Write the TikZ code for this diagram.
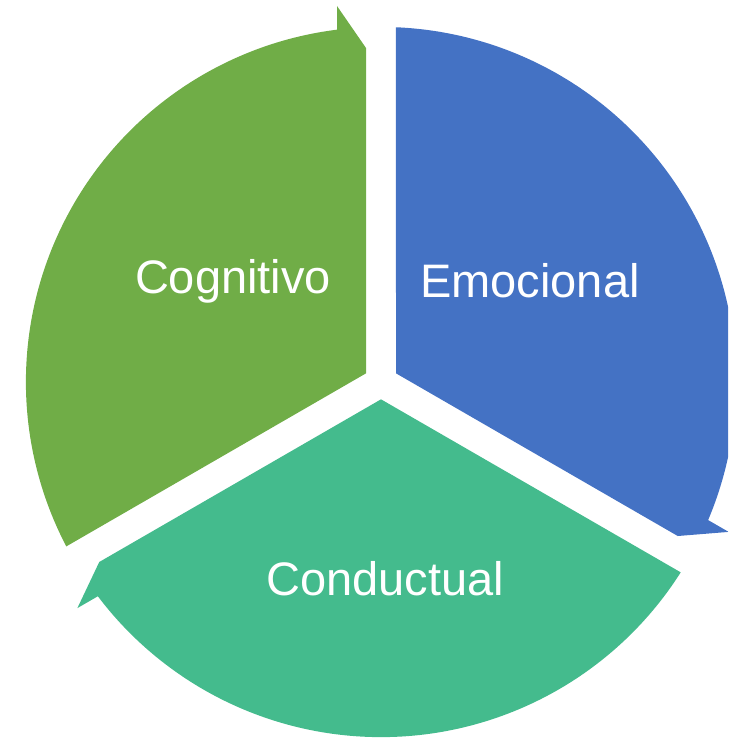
\documentclass[tikz,border=0pt]{standalone}
\usepackage{fontspec}
\setmainfont{Liberation Sans}
\definecolor{cgreen}{RGB}{112,173,71}
\definecolor{cblue}{RGB}{68,114,196}
\definecolor{cteal}{RGB}{68,187,141}
\begin{document}
\begin{tikzpicture}[x=1pt,y=1pt,
  seglabel/.style={text=white,font=\fontsize{47}{56}\selectfont,inner sep=0pt,anchor=center}]
\useasboundingbox (0,0) rectangle (728,-741);
\clip (0,0) rectangle (728,-741);
\begin{scope}[shift={(381,-382)}]
  \def\segpath{(-15,8.66) -- (-314.7,-164.4) arc[start angle=207.6,end angle=97.1,radius=355] -- (-44,376) -- (-15,334) -- cycle}
  \fill[cgreen] \segpath;
  \fill[cblue,rotate=-120] \segpath;
  \fill[cteal,rotate=120] \segpath;
\end{scope}
\node[seglabel] (cog) at (233,-281) {Cognitivo};
\node[seglabel] (emo) at (530,-281) {Emocional};
\node[seglabel] (con) at (385,-579) {Conductual};
\end{tikzpicture}
\end{document}
